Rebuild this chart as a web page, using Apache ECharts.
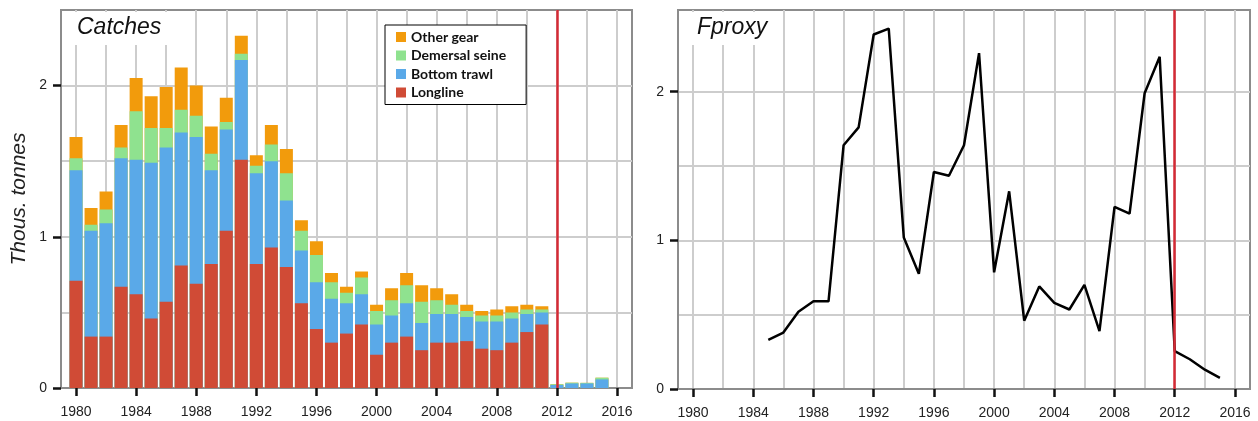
<!DOCTYPE html>
<html>
<head>
<meta charset="utf-8">
<script src="https://cdn.jsdelivr.net/npm/echarts@6/dist/echarts.min.js"></script>
<style>
html,body{margin:0;padding:0;background:#fff}
#main{width:1258px;height:421px}
</style>
</head>
<body>
<div id="main"></div>
<script>
// catches by gear, thous. tonnes (segments, bottom to top)
var years = [1980,1981,1982,1983,1984,1985,1986,1987,1988,1989,1990,1991,1992,1993,1994,1995,1996,1997,
    1998,1999,2000,2001,2002,2003,2004,2005,2006,2007,2008,2009,2010,2011,2012,2013,2014,2015];
var longline = [0.71,0.34,0.34,0.67,0.62,0.46,0.57,0.81,0.69,0.82,1.04,1.51,0.82,0.93,0.80,0.56,0.39,0.30,
    0.36,0.42,0.22,0.30,0.34,0.25,0.30,0.30,0.31,0.26,0.25,0.30,0.37,0.42,0,0,0,0];
var bottomTrawl = [0.73,0.70,0.75,0.85,0.89,1.03,1.02,0.88,0.97,0.62,0.67,0.66,0.60,0.57,0.44,0.35,0.31,0.29,
    0.20,0.20,0.20,0.18,0.22,0.18,0.19,0.19,0.16,0.18,0.19,0.16,0.12,0.08,0.02,0.03,0.03,0.057];
var demersalSeine = [0.08,0.04,0.09,0.07,0.32,0.23,0.13,0.15,0.14,0.11,0.05,0.04,0.05,0.11,0.18,0.13,0.18,0.11,
    0.07,0.11,0.09,0.10,0.12,0.14,0.09,0.06,0.04,0.04,0.04,0.04,0.03,0.02,0.005,0.005,0.004,0.011];
var otherGear = [0.14,0.11,0.12,0.15,0.22,0.21,0.27,0.28,0.20,0.18,0.16,0.12,0.07,0.13,0.16,0.07,0.09,0.06,
    0.04,0.04,0.04,0.08,0.08,0.11,0.08,0.07,0.04,0.03,0.04,0.04,0.03,0.02,0,0,0,0];

// Fproxy
var fYears = [1985,1986,1987,1988,1989,1990,1991,1992,1993,1994,1995,1996,1997,1998,1999,2000,
    2001,2002,2003,2004,2005,2006,2007,2008,2009,2010,2011,2012,2013,2014,2015];
var fproxy = [0.33,0.38,0.52,0.59,0.59,1.64,1.76,2.385,2.425,1.02,0.775,1.46,1.435,1.64,2.26,0.785,
    1.33,0.46,0.69,0.58,0.535,0.70,0.39,1.225,1.18,1.99,2.235,0.255,0.20,0.13,0.075];

var xTickYears = [1980,1984,1988,1992,1996,2000,2004,2008,2012,2016];
var xGridYears = [1980,1982,1984,1986,1988,1990,1992,1994,1996,1998,2000,2002,2004,2006,2008,2010,2012,2014,2016];
var yTickVals = [0, 1, 2];
var yGridVals = [0.5, 1, 1.5, 2];
var assessYear = 2012;

var chart = echarts.init(document.getElementById('main'));

function pairs(xs, ys) {
    return xs.map(function (x, i) { return [x, ys[i]]; });
}
function addUp(a, b) {
    return a.map(function (v, i) { return v + b[i]; });
}
// bars are drawn overlapped from tallest to shortest, so each shows its own segment
var topTrawl = addUp(longline, bottomTrawl);
var topSeine = addUp(topTrawl, demersalSeine);
var topOther = addUp(topSeine, otherGear);

var lbl = {fontSize: 14, color: '#222', fontFamily: 'Liberation Sans'};
var tickLine = {color: '#111', width: 2.5};

// axes with ticks + labels
function xAxisFor(i) {
    return {
        gridIndex: i, type: 'value', min: 1979, max: 2017,
        axisLine: {show: true, onZero: false, lineStyle: {color: '#8c8c8c', width: 2}},
        axisTick: {show: true, length: 8, customValues: xTickYears, lineStyle: tickLine},
        axisLabel: Object.assign({customValues: xTickYears, margin: 17, formatter: function (v) { return String(v); }}, lbl),
        splitLine: {show: false}
    };
}
function yAxisFor(i, max) {
    return {
        gridIndex: i, type: 'value', min: 0, max: max,
        axisLine: {show: true, onZero: false, lineStyle: {color: '#8c8c8c', width: 2}},
        axisTick: {show: true, length: 8, customValues: yTickVals, lineStyle: tickLine},
        axisLabel: Object.assign({customValues: yTickVals, margin: 14}, lbl),
        splitLine: {show: false}
    };
}
// axes only for the light grid lines
function gridAxis(i, pos, min, max, vals) {
    return {
        gridIndex: i, type: 'value', min: min, max: max, position: pos,
        axisLine: {show: false},
        axisTick: {show: false, customValues: vals},
        axisLabel: {show: false, customValues: vals},
        splitLine: {show: true, lineStyle: {color: '#cdcdcd', width: 2}}
    };
}

var yAxes = [yAxisFor(0, 2.5), yAxisFor(1, 2.55),
    gridAxis(0, 'right', 0, 2.5, yGridVals), gridAxis(1, 'right', 0, 2.55, yGridVals)];
yAxes[0].name = 'Thous. tonnes';
yAxes[0].nameLocation = 'middle';
yAxes[0].nameGap = 31;
yAxes[0].nameTextStyle = {fontSize: 21, fontStyle: 'italic', color: '#222', fontFamily: 'Liberation Sans'};

var xAxes = [xAxisFor(0), xAxisFor(1),
    gridAxis(0, 'top', 1979, 2017, xGridYears), gridAxis(1, 'top', 1979, 2017, xGridYears)];

var redLine = {
    silent: true, symbol: ['none', 'none'], label: {show: false},
    lineStyle: {color: '#d42a35', width: 2.5, type: 'solid'},
    data: [{xAxis: assessYear}]
};

function barSeries(name, vals, color) {
    return {
        name: name, type: 'bar', xAxisIndex: 0, yAxisIndex: 0,
        barWidth: 13, barGap: '-100%', itemStyle: {color: color},
        data: pairs(years, vals)
    };
}

var titleStyle = {fontSize: 23, fontStyle: 'italic', fontWeight: 'normal', color: '#111', fontFamily: 'Liberation Sans'};

var option = {
    animation: false,
    backgroundColor: '#fff',
    title: [
        {text: 'Catches', left: 69, top: 12, padding: [4, 8, 6, 8], backgroundColor: '#fff', textStyle: titleStyle},
        {text: 'Fproxy', left: 689, top: 12, padding: [4, 8, 6, 8], backgroundColor: '#fff', textStyle: titleStyle}
    ],
    legend: {
        left: 385, top: 25, orient: 'vertical', selectedMode: false,
        data: ['Other gear', 'Demersal seine', 'Bottom trawl', 'Longline'],
        icon: 'rect', itemWidth: 10, itemHeight: 10, itemGap: 4.5,
        padding: [5, 20, 5, 11],
        borderColor: '#000', borderWidth: 1, backgroundColor: '#fff',
        textStyle: {fontSize: 14, fontWeight: 'bold', color: '#111', fontFamily: 'Lato'}
    },
    grid: [
        {left: 61, top: 10, width: 571, height: 378, show: true, borderColor: '#8c8c8c', borderWidth: 2, backgroundColor: '#fff'},
        {left: 678, top: 10, width: 572, height: 379, show: true, borderColor: '#8c8c8c', borderWidth: 2, backgroundColor: '#fff'}
    ],
    xAxis: xAxes,
    yAxis: yAxes,
    series: [
        barSeries('Other gear', topOther, '#f29b0c'),
        barSeries('Demersal seine', topSeine, '#8fe28f'),
        barSeries('Bottom trawl', topTrawl, '#5aa9e8'),
        Object.assign(barSeries('Longline', longline, '#d04b36'), {markLine: redLine}),
        {
            name: 'Fproxy', type: 'line', xAxisIndex: 1, yAxisIndex: 1,
            showSymbol: false, symbol: 'none',
            lineStyle: {color: '#000', width: 2.5},
            data: pairs(fYears, fproxy),
            markLine: redLine
        }
    ]
};
chart.setOption(option);
</script>
</body>
</html>
